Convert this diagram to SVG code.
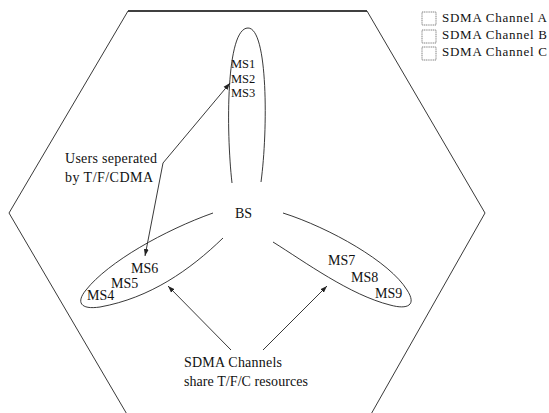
<svg xmlns="http://www.w3.org/2000/svg" width="549" height="413" viewBox="0 0 549 413">
<style>
text{font-family:"Liberation Serif","Times New Roman",serif;font-size:14px;fill:#111}
.sm{font-size:12.5px}
.lg{font-size:13px}
.ln{fill:none;stroke:#222;stroke-width:0.9}
.hex{fill:none;stroke:#222;stroke-width:0.9}
.box{fill:#fff;stroke:#666;stroke-width:0.8;stroke-dasharray:1.2 0.6}
</style>
<defs>
<marker id="ah" viewBox="0 0 10 10" refX="10" refY="5" markerWidth="7" markerHeight="7" markerUnits="userSpaceOnUse" orient="auto">
<path d="M0,1.5 L10,5 L0,8.5 z" fill="#222"/>
</marker>
</defs>
<rect width="549" height="413" fill="#fff"/>
<g id="cell">
<polygon class="hex" points="128,11 367,11 485,213 370,416 128,416 9,213"/>
<line x1="128" y1="11" x2="367" y2="11" stroke="#222" stroke-width="1.6"/>
</g>
<g id="bs"><text x="235" y="218">BS</text></g>
<g id="beamA">
<path class="ln" d="M232,183 C226,130 226,28 248,28 C268,28 268,130 261,182"/>
<text class="sm" x="231" y="68">MS1</text>
<text class="sm" x="231" y="83">MS2</text>
<text class="sm" x="231" y="97">MS3</text>
</g>
<g id="beamB">
<path class="ln" d="M213,213 C165,230 108,262 86,290 C76,302 80,310 100,307 C150,298 190,270 223,238"/>
<text x="131" y="273">MS6</text>
<text x="111" y="288">MS5</text>
<text x="87" y="300">MS4</text>
</g>
<g id="beamC">
<path class="ln" d="M283,213 C330,228 390,262 407,290 C417,305 408,310 390,305 C350,295 305,262 273,242"/>
<text x="328" y="265">MS7</text>
<text x="351" y="282">MS8</text>
<text x="375" y="298">MS9</text>
</g>
<g id="label-users">
<text x="65" y="163" textLength="92" lengthAdjust="spacing">Users seperated</text>
<text x="65" y="182" textLength="88" lengthAdjust="spacing">by T/F/CDMA</text>
</g>
<g id="label-sdma">
<text x="184" y="367" textLength="98" lengthAdjust="spacing">SDMA Channels</text>
<text x="184" y="386" textLength="124" lengthAdjust="spacing">share T/F/C resources</text>
</g>
<g id="legend">
<rect class="box" x="422" y="12" width="14" height="13"/>
<rect class="box" x="422" y="30" width="14" height="13"/>
<rect class="box" x="422" y="47" width="14" height="13"/>
<text class="lg" x="442" y="22" textLength="105" lengthAdjust="spacing">SDMA Channel A</text>
<text class="lg" x="442" y="39" textLength="105" lengthAdjust="spacing">SDMA Channel B</text>
<text class="lg" x="442" y="56" textLength="105" lengthAdjust="spacing">SDMA Channel C</text>
</g>
<g id="connectors">
<line class="ln" x1="163" y1="163" x2="230" y2="83" marker-end="url(#ah)"/>
<line class="ln" x1="163" y1="163" x2="145" y2="256" marker-end="url(#ah)"/>
<line class="ln" x1="231" y1="350" x2="168" y2="286" marker-end="url(#ah)"/>
<line class="ln" x1="263" y1="350" x2="327" y2="286" marker-end="url(#ah)"/>
</g>
</svg>
